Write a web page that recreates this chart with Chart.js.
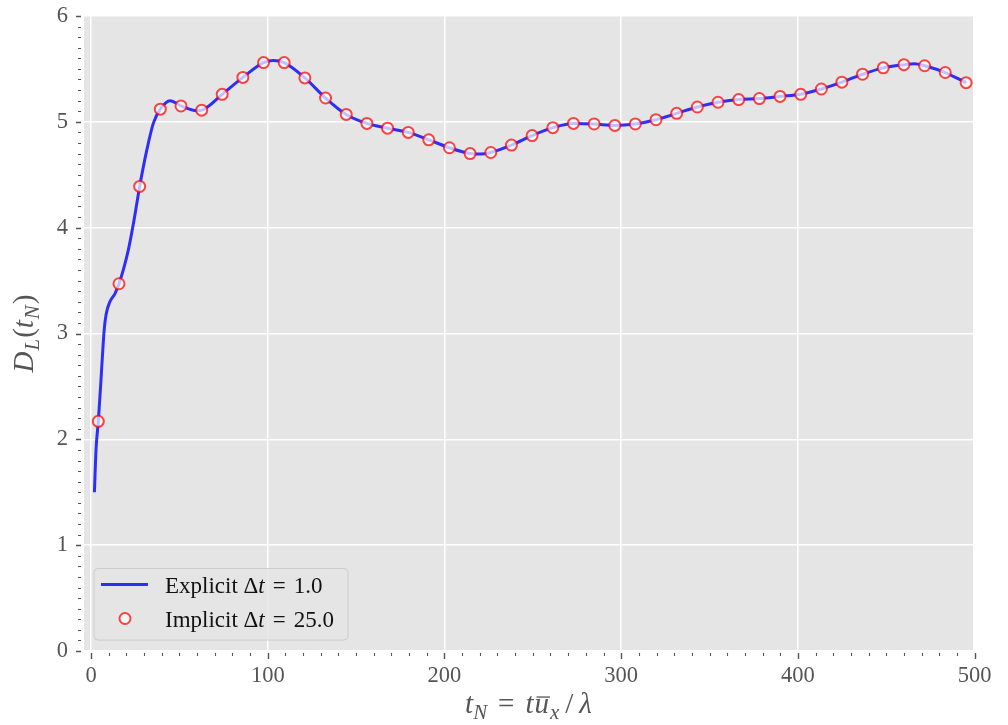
<!DOCTYPE html>
<html>
<head>
<meta charset="utf-8">
<script src="https://cdn.jsdelivr.net/npm/chart.js@4/dist/chart.umd.min.js"></script>
<style>
  html, body { margin: 0; background: #fff; }
  #wrap { width: 1008px; height: 725px; }
</style>
</head>
<body>
<div id="wrap"><canvas id="chart" width="1008" height="725"></canvas></div>
<script>
// explicit run, dt = 1.0
const explicitT = [1.9, 2.8, 4.1, 5.5, 6.4, 7.4, 8.5, 10.4, 13.6, 15.8,
  18.7, 21.1, 24.3, 27.5, 31.5, 35.3, 39.2, 44.7, 50.9, 59.8,
  62.6, 74.2, 85.9, 97.6, 103.2, 109.3, 121.0, 132.7, 144.4, 156.1,
  167.8, 179.5, 191.1, 202.8, 214.5, 220.3, 226.2, 237.9, 249.6, 261.3,
  273.0, 284.7, 296.4, 308.0, 319.7, 331.4, 343.1, 354.8, 366.5, 378.2,
  389.9, 401.6, 413.3, 424.9, 436.6, 448.3, 460.0, 466.0, 471.7, 483.4, 495.2];
const explicitD = [1.50, 1.90, 2.17, 2.53, 2.78, 3.03, 3.18, 3.29, 3.38, 3.47,
  3.63, 3.79, 4.07, 4.39, 4.73, 4.99, 5.12, 5.20, 5.15, 5.105,
  5.11, 5.26, 5.42, 5.56, 5.58, 5.56, 5.415, 5.225, 5.07, 4.985,
  4.94, 4.90, 4.83, 4.755, 4.70, 4.695, 4.71, 4.78, 4.87, 4.945,
  4.985, 4.98, 4.966, 4.98, 5.02, 5.08, 5.14, 5.185, 5.21, 5.22,
  5.24, 5.26, 5.31, 5.375, 5.45, 5.51, 5.54, 5.55, 5.53, 5.466, 5.37];

// implicit run, dt = 25.0
const implicitT = [4.1, 15.8, 27.5, 39.2, 50.9, 62.6, 74.2, 85.9, 97.6, 109.3,
  121.0, 132.7, 144.4, 156.1, 167.8, 179.5, 191.1, 202.8, 214.5, 226.2,
  237.9, 249.6, 261.3, 273.0, 284.7, 296.4, 308.0, 319.7, 331.4, 343.1,
  354.8, 366.5, 378.2, 389.9, 401.6, 413.3, 424.9, 436.6, 448.3, 460.0,
  471.7, 483.4, 495.2];
const implicitD = [2.17, 3.47, 4.39, 5.12, 5.15, 5.11, 5.26, 5.42, 5.56, 5.56,
  5.415, 5.225, 5.07, 4.985, 4.94, 4.90, 4.83, 4.755, 4.70, 4.71,
  4.78, 4.87, 4.945, 4.985, 4.98, 4.966, 4.98, 5.02, 5.08, 5.14,
  5.185, 5.21, 5.22, 5.24, 5.26, 5.31, 5.375, 5.45, 5.51, 5.54,
  5.53, 5.466, 5.37];

const xTicks = [0, 100, 200, 300, 400, 500];
const yTicks = [0, 1, 2, 3, 4, 5, 6];

const FONT = '"Liberation Serif", serif';
const TEXT = '#555555';
const LINE_COLOR = 'rgba(0, 0, 255, 0.8)';
const RING_COLOR = 'rgba(255, 0, 0, 0.72)';
const RING_FILL = 'rgba(255, 255, 255, 0.7)';

// minor ticks: every 10 on x, every 0.1 on y
const xMinor = [];
for (let v = 10; v < 500; v += 10) if (v % 100) xMinor.push(v);
const yMinor = [];
for (let i = 1; i < 60; i++) if (i % 10) yMinor.push(i / 10);

// mixed upright / italic / subscript text
function runFont(r, size) {
  return (r.it ? 'italic ' : '') + (r.sub ? size * 0.72 : size) + 'px ' + FONT;
}

function runsWidth(ctx, runs, size) {
  let w = 0;
  runs.forEach(r => {
    ctx.font = runFont(r, size);
    w += ctx.measureText(r.t).width + (r.pad || 0) * 2;
  });
  return w;
}

function drawRuns(ctx, runs, x, y, size, color) {
  ctx.fillStyle = color;
  ctx.strokeStyle = color;
  ctx.textBaseline = 'alphabetic';
  ctx.textAlign = 'left';
  runs.forEach(r => {
    ctx.font = runFont(r, size);
    const dy = r.sub ? size * 0.2 : 0;
    x += r.pad || 0;
    ctx.fillText(r.t, x, y + dy);
    const w = ctx.measureText(r.t).width;
    if (r.bar) {
      ctx.lineWidth = 1.3;
      ctx.beginPath();
      ctx.moveTo(x + 2, y - size * 0.55);
      ctx.lineTo(x + w + 1, y - size * 0.55);
      ctx.stroke();
    }
    x += w + (r.pad || 0);
  });
}

const xTitle = [
  { t: 't', it: 1 }, { t: 'N', it: 1, sub: 1 }, { t: '=', pad: 11 },
  { t: 't', it: 1 }, { t: 'u', it: 1, bar: 1, pad: 1 }, { t: 'x', it: 1, sub: 1 },
  { t: '/', pad: 6 }, { t: 'λ', it: 1 }
];
const yTitle = [
  { t: 'D', it: 1 }, { t: 'L', it: 1, sub: 1, pad: 1 }, { t: '(' },
  { t: 't', it: 1 }, { t: 'N', it: 1, sub: 1, pad: 1 }, { t: ')' }
];
const legendRows = [
  [{ t: 'Explicit ' }, { t: 'Δ' }, { t: 't', it: 1 }, { t: '=', pad: 8 }, { t: '1.0' }],
  [{ t: 'Implicit ' }, { t: 'Δ' }, { t: 't', it: 1 }, { t: '=', pad: 8 }, { t: '25.0' }]
];

const backdrop = {
  id: 'backdrop',
  beforeDraw(chart) {
    const { ctx, chartArea: a } = chart;
    ctx.save();
    ctx.fillStyle = '#e5e5e5';
    ctx.fillRect(a.left, a.top, a.right - a.left, a.bottom - a.top);
    ctx.restore();
  }
};

const decorations = {
  id: 'decorations',
  afterDraw(chart) {
    const { ctx, chartArea: a } = chart;
    const xs = chart.scales.x, ys = chart.scales.y;
    ctx.save();
    ctx.strokeStyle = TEXT;

    // tick marks
    ctx.lineWidth = 1.4;
    ctx.beginPath();
    xTicks.forEach(v => {
      const p = Math.round(xs.getPixelForValue(v)) + 0.5;
      ctx.moveTo(p, a.bottom + 2); ctx.lineTo(p, a.bottom + 8);
    });
    yTicks.forEach(v => {
      const p = Math.round(ys.getPixelForValue(v)) + 0.5;
      ctx.moveTo(a.left - 8, p); ctx.lineTo(a.left - 3, p);
    });
    ctx.stroke();
    ctx.lineWidth = 1.1;
    ctx.beginPath();
    xMinor.forEach(v => {
      const p = Math.round(xs.getPixelForValue(v)) + 0.5;
      ctx.moveTo(p, a.bottom + 2); ctx.lineTo(p, a.bottom + 5);
    });
    yMinor.forEach(v => {
      const p = Math.round(ys.getPixelForValue(v)) + 0.5;
      ctx.moveTo(a.left - 6, p); ctx.lineTo(a.left - 3, p);
    });
    ctx.stroke();

    // axis titles
    const ts = 29;
    const cx = (a.left + a.right) / 2;
    drawRuns(ctx, xTitle, cx - runsWidth(ctx, xTitle, ts) / 2, 713, ts, TEXT);
    ctx.save();
    ctx.translate(33, (a.top + a.bottom) / 2);
    ctx.rotate(-Math.PI / 2);
    drawRuns(ctx, yTitle, -runsWidth(ctx, yTitle, ts) / 2, 0, ts, TEXT);
    ctx.restore();

    // legend
    ctx.fillStyle = 'rgba(229, 229, 229, 0.8)';
    ctx.strokeStyle = '#cccccc';
    ctx.lineWidth = 1;
    ctx.beginPath();
    ctx.roundRect(94, 568.5, 254, 71.5, 4);
    ctx.fill();
    ctx.stroke();

    ctx.strokeStyle = LINE_COLOR;
    ctx.lineWidth = 3;
    ctx.beginPath();
    ctx.moveTo(101, 584.5); ctx.lineTo(148, 584.5);
    ctx.stroke();

    ctx.beginPath();
    ctx.arc(125, 618.5, 5.5, 0, Math.PI * 2);
    ctx.fillStyle = RING_FILL;
    ctx.fill();
    ctx.strokeStyle = RING_COLOR;
    ctx.lineWidth = 2;
    ctx.stroke();

    drawRuns(ctx, legendRows[0], 165, 593, 23, '#111111');
    drawRuns(ctx, legendRows[1], 165, 627, 23, '#111111');
    ctx.restore();
  }
};

new Chart(document.getElementById('chart'), {
  type: 'scatter',
  data: {
    datasets: [
      {
        label: 'Explicit',
        data: explicitT.map((t, i) => ({ x: t, y: explicitD[i] })),
        showLine: true,
        borderColor: LINE_COLOR,
        borderWidth: 3,
        pointRadius: 0,
        cubicInterpolationMode: 'monotone',
        order: 2
      },
      {
        label: 'Implicit',
        data: implicitT.map((t, i) => ({ x: t, y: implicitD[i] })),
        showLine: false,
        pointRadius: 5.5,
        pointBorderWidth: 2,
        pointBorderColor: RING_COLOR,
        pointBackgroundColor: RING_FILL,
        order: 1
      }
    ]
  },
  options: {
    responsive: false,
    animation: false,
    devicePixelRatio: 1,
    layout: { padding: { top: 16, right: 35, left: 0, bottom: 0 } },
    plugins: { legend: { display: false }, tooltip: { enabled: false } },
    scales: {
      x: {
        type: 'linear',
        min: -4.0,
        max: 499.1,
        afterBuildTicks: s => { s.ticks = xTicks.map(v => ({ value: v })); },
        afterFit: s => { s.height = 74; s.paddingLeft = 0; s.paddingRight = 0; },
        grid: { color: '#ffffff', lineWidth: 1.5, drawTicks: false },
        border: { display: false },
        ticks: { color: TEXT, font: { family: FONT, size: 22.5 }, padding: 12, maxRotation: 0 }
      },
      y: {
        min: 0,
        max: 6,
        afterBuildTicks: s => { s.ticks = yTicks.map(v => ({ value: v })); },
        afterFit: s => { s.width = 84; s.paddingTop = 0; s.paddingBottom = 0; },
        grid: { color: '#ffffff', lineWidth: 1.5, drawTicks: false },
        border: { display: false },
        ticks: { color: TEXT, font: { family: FONT, size: 22.5 }, padding: 16 }
      }
    }
  },
  plugins: [backdrop, decorations]
});
</script>
</body>
</html>
